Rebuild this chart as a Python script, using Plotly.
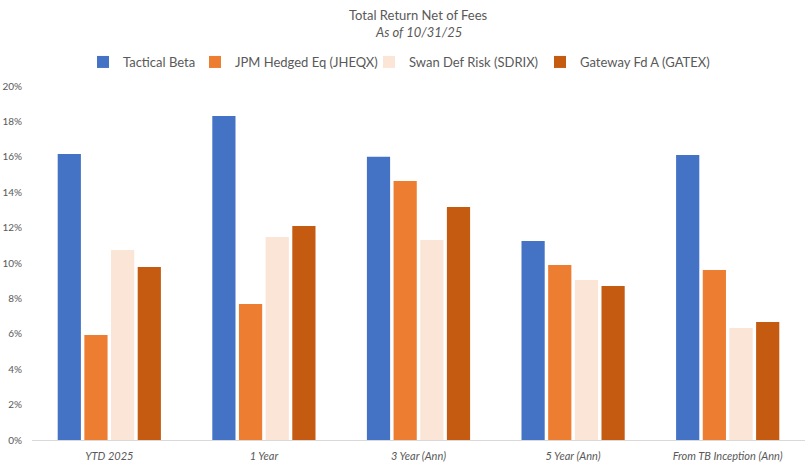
import plotly.graph_objects as go

# values (fraction, shown as %)
categories = ["YTD 2025", "1 Year", "3 Year (Ann)", "5 Year (Ann)", "From TB Inception (Ann)"]
tactical_beta = [0.1616, 0.1830, 0.1600, 0.1124, 0.1610]
jpm_hedged = [0.0593, 0.0768, 0.1463, 0.0989, 0.0960]
swan_def = [0.1073, 0.1147, 0.1130, 0.0904, 0.0633]
gateway = [0.0977, 0.1209, 0.1316, 0.0870, 0.0667]

series = [
    ("Tactical Beta", tactical_beta, "#4472C4"),
    ("JPM Hedged Eq (JHEQX)", jpm_hedged, "#ED7D31"),
    ("Swan Def Risk (SDRIX)", swan_def, "#FBE5D6"),
    ("Gateway Fd A (GATEX)", gateway, "#C55A11"),
]

grey = "#595959"
font_family = "Lato, 'Open Sans', sans-serif"

# plot area in pixels (body margin is removed below so these are page pixels)
left, right = 32, 805
top, bottom = 86, 440
plot_w = right - left
plot_h = bottom - top

# one legend per series so each entry sits where the reference has it
legend_text_x = [123, 235, 409, 580]
legend_ids = ["legend", "legend2", "legend3", "legend4"]

fig = go.Figure()
for (name, vals, color), lid in zip(series, legend_ids):
    fig.add_trace(go.Bar(
        name=name,
        x=categories,
        y=vals,
        marker=dict(color=color, line=dict(width=0)),
        legend=lid,
    ))

legend_layout = {}
for lid, tx in zip(legend_ids, legend_text_x):
    legend_layout[lid] = dict(
        orientation="h",
        x=(tx - 40 - left) / plot_w, xanchor="left",
        y=1 + (top - 62) / plot_h, yanchor="middle",
        font=dict(size=13, color=grey),
        bgcolor="rgba(0,0,0,0)",
    )

fig.update_layout(
    width=812,
    height=468,
    barmode="group",
    bargap=0.31,
    bargroupgap=0.13,
    plot_bgcolor="white",
    paper_bgcolor="white",
    font=dict(family=font_family, color=grey, size=11),
    margin=dict(l=left, r=812 - right, t=top, b=468 - bottom, autoexpand=False),
    showlegend=True,
    **legend_layout,
)

fig.add_annotation(
    text="Total Return Net of Fees", xref="paper", yref="paper",
    x=0.5, y=1 + (top - 15) / plot_h, showarrow=False,
    font=dict(size=13, color=grey), yanchor="middle",
)
fig.add_annotation(
    text="<i>As of 10/31/25</i>", xref="paper", yref="paper",
    x=0.5, y=1 + (top - 32) / plot_h, showarrow=False,
    font=dict(size=13, color=grey), yanchor="middle",
)

fig.update_xaxes(
    automargin=False,
    showgrid=False,
    showline=True,
    linecolor="#D9D9D9",
    linewidth=1,
    ticks="",
    tickmode="array",
    tickvals=categories,
    ticktext=[f"<i>{c}</i>" for c in categories],
    tickfont=dict(size=11, color=grey, family=font_family),
    ticklabelstandoff=6,
)
fig.update_yaxes(
    automargin=False,
    range=[0, 0.2],
    dtick=0.02,
    tickformat=".0%",
    showgrid=False,
    zeroline=False,
    showline=False,
    ticks="",
    tickfont=dict(size=10, color=grey),
    ticklabelstandoff=9,
)

# drop the default 8px body margin so the figure fills the window exactly
fig.write_html(
    "out.html",
    config={"displayModeBar": False},
    post_script="document.body.style.margin = '0';",
)
